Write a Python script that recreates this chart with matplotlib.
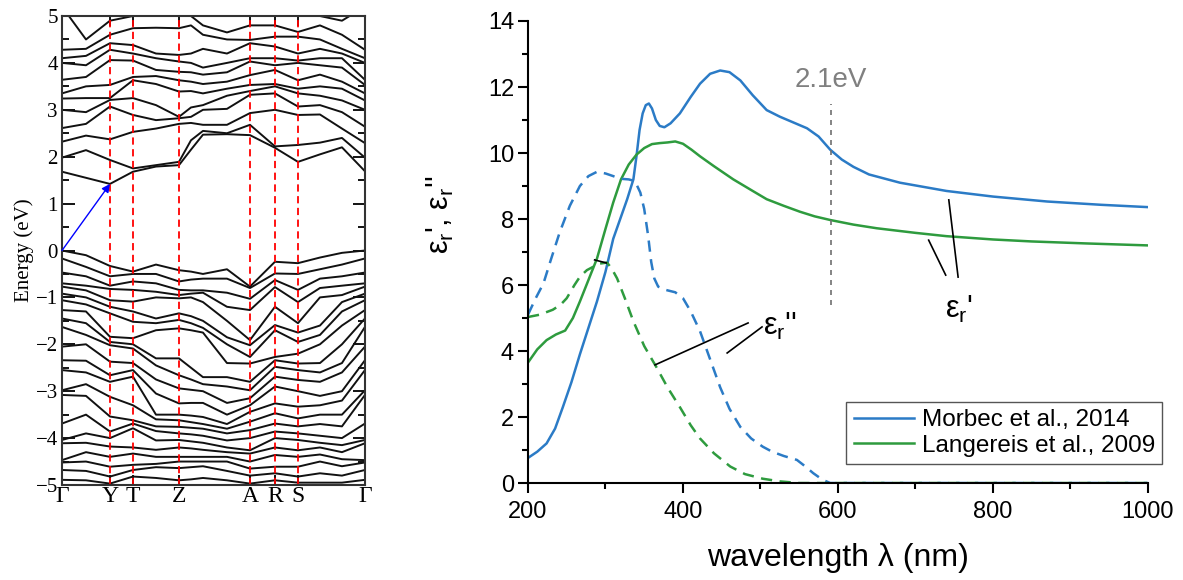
import numpy as np
import matplotlib
matplotlib.use("Agg")
import matplotlib.pyplot as plt

plt.rcParams["font.family"] = ["Liberation Sans", "DejaVu Sans"]
plt.rcParams["mathtext.fontset"] = "custom"
plt.rcParams["mathtext.rm"] = "Liberation Sans"
plt.rcParams["mathtext.it"] = "Liberation Sans:italic"

# --- band structure (left panel) ---
kpath = [0, 24, 48, 71, 94, 117, 129, 141, 165, 188, 213, 236, 258, 280, 303]
sym_pos = [0, 48, 71, 117, 188, 213, 236, 303]
sym_labels = ["Γ", "Y", "T", "Z", "A", "R", "S", "Γ"]

# conduction bands, energies at each k point of kpath
cb_G = [1.68, 1.98, 2.32, 2.61, 3.0, 3.24, 3.35, 3.64, 4.0, 4.1, 4.28, 5.2, 5.5]
cb_GY = [1.55, 2.14, 2.45, 2.7, 2.95, 3.25, 3.5, 3.7, 3.95, 4.15, 4.3, 4.5, 5.2]
cb_Y = [1.42, 1.93, 2.37, 3.07, 3.21, 3.25, 3.53, 4.06, 4.28, 4.42, 4.6, 4.9, 5.3]
cb_T = [1.68, 1.75, 2.53, 2.89, 3.25, 3.63, 3.7, 4.05, 4.2, 4.38, 4.74, 5.0, 5.3]
cb_TZ = [1.79, 1.82, 2.6, 2.78, 3.1, 3.55, 3.72, 3.85, 4.1, 4.2, 4.75, 5.1, 5.4]
cb_Z = [1.82, 1.89, 2.7, 2.82, 2.85, 3.39, 3.63, 3.81, 4.03, 4.17, 4.74, 5.2, 5.4]
cb_Z1 = [2.15, 2.35, 2.72, 2.85, 3.05, 3.4, 3.6, 3.8, 4.0, 4.2, 4.8, 5.0, 5.3]
cb_ZA1 = [2.47, 2.55, 2.68, 3.0, 3.1, 3.35, 3.55, 3.75, 3.9, 4.3, 4.6, 4.8, 5.0]
cb_ZA2 = [2.48, 2.5, 2.68, 3.02, 3.3, 3.45, 3.6, 3.8, 4.0, 4.2, 4.5, 4.65, 5.0]
cb_A = [2.46, 2.68, 2.93, 3.32, 3.4, 3.53, 3.74, 4.03, 4.1, 4.42, 4.49, 4.8, 5.2]
cb_R = [2.19, 2.22, 3.0, 3.35, 3.5, 3.55, 3.85, 3.95, 4.1, 4.35, 4.56, 4.8, 5.2]
cb_S = [1.89, 2.25, 2.89, 3.07, 3.35, 3.45, 3.63, 4.0, 4.05, 4.2, 4.56, 4.66, 5.1]
cb_SG1 = [2.05, 2.3, 2.9, 3.1, 3.3, 3.5, 3.75, 3.95, 4.1, 4.3, 4.5, 4.8, 5.0]
cb_SG2 = [2.2, 2.4, 2.6, 2.95, 3.2, 3.45, 3.6, 3.9, 4.1, 4.2, 4.3, 4.6, 4.9]
cb_G2 = [1.69, 1.98, 2.29, 2.64, 3.0, 3.2, 3.35, 3.53, 3.64, 4.0, 4.1, 4.28, 5.2]

# valence bands
vb_G = [0.0, -0.17, -0.47, -0.7, -0.77, -0.92, -1.06, -1.27, -1.45, -1.63, -2.05,
        -2.34, -2.55, -2.98, -3.08, -3.69, -4.04, -4.11, -4.47, -4.52, -4.68, -4.89]
vb_GY = [-0.1, -0.35, -0.55, -0.75, -0.85, -1.0, -1.15, -1.3, -1.55, -1.8, -2.0,
         -2.35, -2.6, -2.85, -3.1, -3.5, -3.9, -4.1, -4.3, -4.5, -4.7, -4.9]
vb_Y = [-0.33, -0.55, -0.75, -0.82, -1.06, -1.2, -1.34, -1.84, -1.95, -2.02, -2.37,
        -2.66, -2.8, -3.12, -3.54, -3.86, -4.0, -4.18, -4.4, -4.61, -4.82, -4.97]
vb_T = [-0.45, -0.5, -0.66, -0.84, -1.09, -1.3, -1.52, -1.87, -2.0, -2.09, -2.4,
        -2.55, -2.69, -3.3, -3.62, -3.69, -3.79, -4.2, -4.33, -4.57, -4.68, -4.82]
vb_TZ = [-0.3, -0.5, -0.7, -0.88, -1.0, -1.45, -1.55, -1.7, -2.3, -2.45, -2.75,
         -3.05, -3.5, -3.6, -3.75, -3.85, -4.05, -4.25, -4.4, -4.55, -4.62, -4.85]
vb_Z = [-0.42, -0.66, -0.84, -0.95, -1.02, -1.34, -1.48, -1.66, -2.3, -2.66, -2.94,
        -3.26, -3.5, -3.62, -3.76, -3.9, -4.04, -4.2, -4.4, -4.5, -4.64, -4.9]
vb_Z1 = [-0.45, -0.62, -0.85, -0.92, -1.0, -1.4, -1.55, -1.7, -2.5, -2.75, -2.97,
         -3.25, -3.52, -3.66, -3.78, -3.92, -4.07, -4.22, -4.4, -4.5, -4.62, -4.88]
vb_ZA1 = [-0.5, -0.6, -0.85, -0.9, -1.1, -1.5, -1.65, -1.75, -2.7, -2.85, -3.0,
          -3.25, -3.55, -3.7, -3.8, -3.95, -4.1, -4.25, -4.4, -4.5, -4.6, -4.85]
vb_ZA2 = [-0.4, -0.6, -0.9, -1.2, -1.5, -1.85, -2.0, -2.4, -2.7, -2.9, -3.25,
          -3.5, -3.7, -3.8, -3.9, -4.05, -4.2, -4.3, -4.4, -4.5, -4.7, -4.9]
vb_A = [-0.77, -0.8, -1.03, -1.27, -1.91, -2.02, -2.27, -2.41, -2.8, -2.98, -3.15,
        -3.3, -3.44, -3.65, -3.83, -4.0, -4.26, -4.33, -4.5, -4.65, -4.8, -4.97]
vb_R = [-0.24, -0.49, -0.63, -0.78, -1.2, -1.59, -1.7, -2.27, -2.34, -2.48, -2.69,
        -2.9, -3.26, -3.47, -3.69, -3.86, -4.0, -4.2, -4.36, -4.61, -4.75, -4.9]
vb_S = [-0.27, -0.5, -0.84, -1.1, -1.55, -1.75, -1.95, -2.2, -2.41, -2.55, -2.76,
        -3.0, -3.33, -3.58, -3.75, -3.9, -4.04, -4.26, -4.4, -4.61, -4.82, -4.95]
vb_SG1 = [-0.15, -0.4, -0.6, -0.8, -1.0, -1.6, -1.8, -2.0, -2.4, -2.6, -2.8,
          -3.1, -3.3, -3.5, -3.7, -3.95, -4.1, -4.2, -4.35, -4.5, -4.75, -4.95]
vb_SG2 = [-0.05, -0.3, -0.55, -0.75, -0.95, -1.1, -1.3, -1.6, -2.0, -2.4, -2.6,
          -3.0, -3.2, -3.5, -3.75, -4.0, -4.15, -4.3, -4.45, -4.6, -4.8, -4.95]
vb_G2 = vb_G

cb = np.array([cb_G, cb_GY, cb_Y, cb_T, cb_TZ, cb_Z, cb_Z1, cb_ZA1, cb_ZA2, cb_A,
               cb_R, cb_S, cb_SG1, cb_SG2, cb_G2]).T
vb = np.array([vb_G, vb_GY, vb_Y, vb_T, vb_TZ, vb_Z, vb_Z1, vb_ZA1, vb_ZA2, vb_A,
               vb_R, vb_S, vb_SG1, vb_SG2, vb_G2]).T

# --- dielectric function (right panel) ---
wl_m_re = [200, 212, 224, 235, 245, 256, 267, 278, 289, 300, 310, 319, 328, 336, 340, 344,
           348, 352, 356, 360, 365, 370, 376, 384, 396, 410, 422, 435, 448, 460, 474, 490,
           508, 525, 545, 560, 575, 590, 605, 620, 640, 680, 740, 800, 870, 940, 1000]
eps_m_re = [0.76, 0.95, 1.2, 1.65, 2.3, 3.05, 3.9, 4.7, 5.5, 6.4, 7.4, 8.0, 8.6, 9.2, 9.9, 10.7,
            11.2, 11.45, 11.5, 11.35, 11.0, 10.82, 10.78, 10.9, 11.2, 11.7, 12.1, 12.4, 12.5, 12.45,
            12.2, 11.75, 11.3, 11.1, 10.9, 10.75, 10.5, 10.1, 9.8, 9.58, 9.35, 9.1, 8.85, 8.68,
            8.53, 8.43, 8.36]
wl_l_re = [200, 212, 224, 236, 248, 258, 267, 278, 289, 300, 310, 320, 330, 340, 350, 360,
           370, 380, 390, 400, 411, 422, 440, 465, 490, 508, 530, 551, 570, 590, 620, 650,
           700, 740, 800, 850, 920, 1000]
eps_l_re = [3.65, 4.05, 4.33, 4.5, 4.62, 5.0, 5.5, 6.15, 6.8, 7.7, 8.5, 9.2, 9.65, 9.95, 10.15,
            10.27, 10.3, 10.32, 10.35, 10.28, 10.1, 9.9, 9.6, 9.2, 8.85, 8.6, 8.4, 8.22, 8.08,
            7.97, 7.83, 7.72, 7.58, 7.48, 7.38, 7.32, 7.26, 7.2]
wl_m_im = [200, 210, 220, 230, 241, 254, 267, 278, 289, 300, 310, 319, 330, 338, 345, 350,
           355, 359, 363, 368, 378, 390, 400, 410, 422, 435, 448, 460, 474, 488, 503, 515,
           530, 547, 558, 568, 580, 590, 1000]
eps_m_im = [5.1, 5.6, 6.05, 6.8, 7.6, 8.4, 9.0, 9.3, 9.43, 9.38, 9.3, 9.22, 9.2, 9.15, 8.8, 8.3,
            7.5, 6.7, 6.2, 5.95, 5.85, 5.78, 5.6, 5.2, 4.6, 3.75, 2.9, 2.25, 1.7, 1.35, 1.1, 0.95,
            0.82, 0.7, 0.5, 0.3, 0.1, 0.0, 0.0]
wl_l_im = [200, 215, 232, 242, 250, 260, 267, 276, 284, 293, 302, 308, 315, 325, 336, 350,
           366, 380, 396, 410, 422, 440, 461, 480, 503, 525, 550, 1000]
eps_l_im = [5.03, 5.1, 5.25, 5.4, 5.6, 6.0, 6.25, 6.45, 6.55, 6.65, 6.68, 6.5, 6.2, 5.6, 4.9,
            4.15, 3.5, 2.9, 2.3, 1.75, 1.35, 0.9, 0.5, 0.27, 0.13, 0.05, 0.0, 0.0]

blue = "#2b7bc6"
green = "#2e9b3e"

fig = plt.figure(figsize=(11.83, 5.8), dpi=100)

# left panel
axb = fig.add_axes([0.0524, 0.1638, 0.2561, 0.8086])
for band in cb:
    axb.plot(kpath, band, color="#111111", lw=1.4)
for band in vb:
    axb.plot(kpath, band, color="#111111", lw=1.4)
for xp in sym_pos[1:-1]:
    axb.axvline(xp, color="red", lw=1.3, dashes=(4, 2.5))
axb.annotate("", xy=(sym_pos[1], cb_Y[0]), xytext=(0, 0),
             arrowprops=dict(arrowstyle="-|>", color="blue", lw=1, mutation_scale=12,
                             shrinkA=0, shrinkB=0))
axb.set_xlim(0, 303)
axb.set_ylim(-5, 5)
axb.set_xticks(sym_pos)
axb.set_xticklabels(sym_labels)
axb.set_yticks(range(-5, 6))
axb.set_yticks(np.arange(-4.5, 5, 1.0), minor=True)
axb.tick_params(axis="y", which="major", direction="in", length=9, width=1.3,
                left=True, right=True, pad=3, labelsize=15,
                labelfontfamily="Liberation Serif")
axb.tick_params(axis="y", which="minor", direction="in", length=5, width=1.3,
                left=True, right=True)
axb.tick_params(axis="x", direction="in", length=7, width=1.3, top=True, bottom=True,
                pad=1, labelsize=17, labelfontfamily="Liberation Serif")
for sp in axb.spines.values():
    sp.set_linewidth(1.5)
    sp.set_color("#333333")
axb.set_ylabel("Energy (eV)", family="Liberation Serif", fontsize=15, labelpad=1)

# right panel
ax = fig.add_axes([0.4463, 0.1672, 0.5241, 0.7966])
ax.plot(wl_m_re, eps_m_re, color=blue, lw=1.8, label="Morbec et al., 2014")
ax.plot(wl_l_re, eps_l_re, color=green, lw=1.8, label="Langereis et al., 2009")
ax.plot(wl_m_im, eps_m_im, color=blue, lw=1.8, dashes=(4.5, 3))
ax.plot(wl_l_im, eps_l_im, color=green, lw=1.8, dashes=(4.5, 3))

# 2.1 eV marker
ax.plot([591, 591], [5.4, 11.5], color="#707070", lw=1.2, dashes=(3, 3))
ax.text(591, 12.2, "2.1eV", color="#808080", fontsize=20, ha="center", va="center")

# annotation lines
ax.plot([717, 739], [7.36, 6.30], color="black", lw=1.2)
ax.plot([743, 755], [8.58, 6.24], color="black", lw=1.2)
ax.text(756, 5.25, "ε$_\\mathrm{r}$'", fontsize=22, ha="center", va="center")
ax.plot([364, 484], [3.58, 4.85], color="black", lw=1.2)
ax.plot([457, 502], [3.94, 4.73], color="black", lw=1.2)
ax.text(503, 4.75, "ε$_\\mathrm{r}$''", fontsize=22, ha="left", va="center")
ax.plot([286, 301], [6.76, 6.67], color="black", lw=1.2)

ax.set_xlim(200, 1000)
ax.set_ylim(0, 14)
ax.set_xticks([200, 400, 600, 800, 1000])
ax.set_xticks([300, 500, 700, 900], minor=True)
ax.set_yticks(range(0, 15, 2))
ax.set_yticks(range(1, 14, 2), minor=True)
ax.tick_params(which="major", direction="out", length=7, width=1.5, labelsize=17)
ax.tick_params(axis="x", which="major", pad=6)
ax.tick_params(axis="y", which="major", pad=3)
ax.tick_params(which="minor", direction="out", length=4.5, width=1.5)
ax.spines["top"].set_visible(False)
ax.spines["right"].set_visible(False)
ax.spines["left"].set_linewidth(1.5)
ax.spines["bottom"].set_linewidth(1.5)
ax.set_xlabel("wavelength λ (nm)", fontsize=23, labelpad=14)

fig.text(0.372, 0.63, "ε$_\\mathrm{r}$', ε$_\\mathrm{r}$''", rotation=90, fontsize=22,
         ha="center", va="center")

leg = ax.legend(loc="lower right", bbox_to_anchor=(1.023, 0.041), borderaxespad=0,
                fontsize=17.5, handlelength=2.5, handletextpad=0.3, fancybox=False,
                edgecolor="#555555", framealpha=1, borderpad=0.3, labelspacing=0.15)
leg.get_frame().set_linewidth(1.0)

fig.savefig("out.png", dpi=100)
